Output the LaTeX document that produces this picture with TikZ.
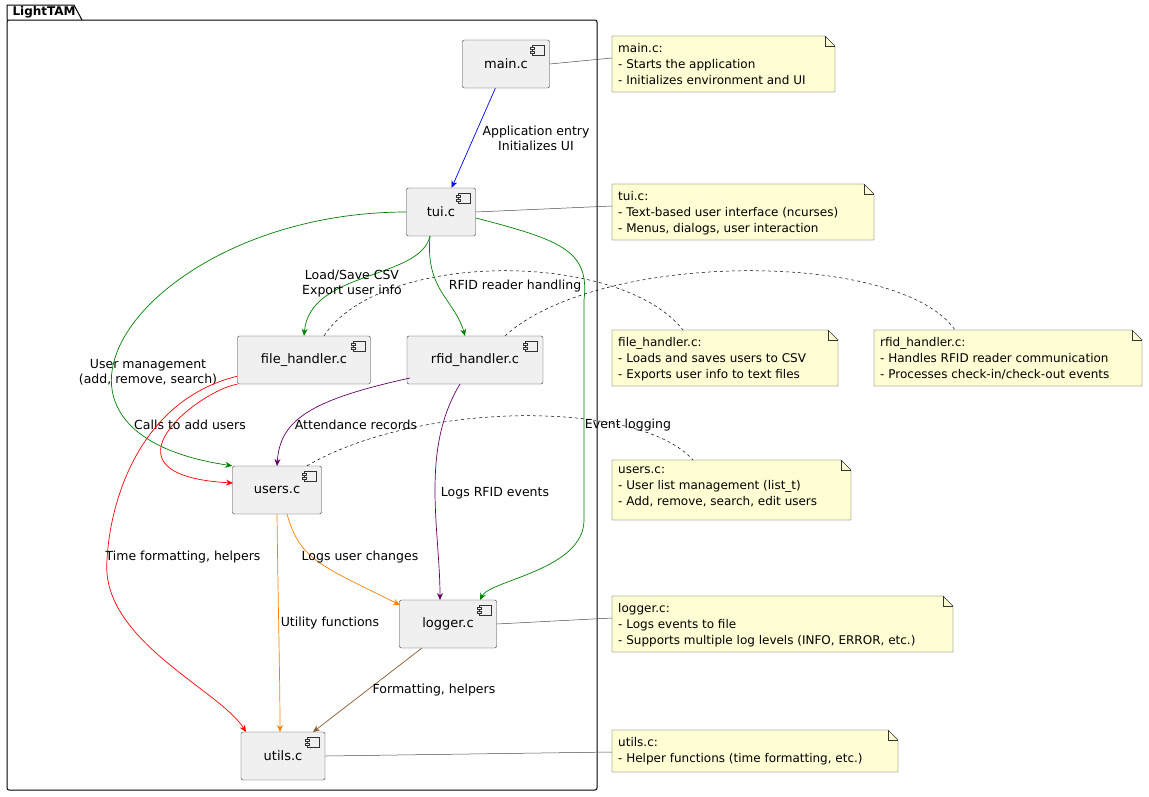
\documentclass[tikz,border=0pt]{standalone}
\usetikzlibrary{arrows.meta}
\usepackage{fontspec}
\setmainfont{DejaVu Sans}
\begin{document}
\begin{tikzpicture}[x=1pt,y=-1pt,
 comp/.style={draw=black!80,fill=black!6,rounded corners=2pt,minimum height=48pt,font=\fontsize{13}{15}\selectfont},
 note/.style={font=\fontsize{12}{16}\selectfont,align=left,anchor=north west,inner sep=0pt},
 lbl/.style={font=\fontsize{12.5}{15}\selectfont,align=center,inner sep=1pt,text=black},
 e/.style={-{Stealth[length=7pt,width=6pt]},line width=0.7pt},
 nl/.style={black!70,line width=0.5pt},
 dl/.style={black,dashed,line width=0.5pt}]
\useasboundingbox (0,0) rectangle (1149,796);
% package
\draw[line width=1pt] (7,20) -- (7,5) -- (74,5) -- (82,20);
\draw[line width=1pt,rounded corners=2pt] (7,20) -- (7,790) -- (597,790) -- (597,20) -- cycle;
\node[anchor=west,font=\bfseries\fontsize{12}{14}\selectfont] (pkg) at (9,12) {LightTAM};
% components
\newcommand{\compicon}[1]{\draw[black!80,fill=black!6] ([xshift=-18pt,yshift=-5pt]#1.north east) rectangle ([xshift=-6pt,yshift=-15pt]#1.north east);
 \draw[black!80,fill=black!6] ([xshift=-20pt,yshift=-7pt]#1.north east) rectangle ([xshift=-16pt,yshift=-9pt]#1.north east);
 \draw[black!80,fill=black!6] ([xshift=-20pt,yshift=-11pt]#1.north east) rectangle ([xshift=-16pt,yshift=-13pt]#1.north east);}
\node[comp,minimum width=87pt] (main) at (506,64) {main.c};
\node[comp,minimum width=69pt] (tui) at (441,212) {tui.c};
\node[comp,minimum width=133pt] (fh) at (304,360) {file\_handler.c};
\node[comp,minimum width=136pt] (rf) at (475,360) {rfid\_handler.c};
\node[comp,minimum width=89pt] (us) at (277,490) {users.c};
\node[comp,minimum width=97pt] (lg) at (448,624) {logger.c};
\node[comp,minimum width=84pt] (ut) at (283,756) {utils.c};
\foreach \n in {main,tui,fh,rf,us,lg,ut}{\compicon{\n}}
% notes
\newcommand{\notebox}[6]{% name x1 y1 x2 y2 text
 \draw[black!80,fill=yellow!13!white!95!yellow] (#2,#3) -- (#4-10,#3) -- (#4,#3+10) -- (#4,#5) -- (#2,#5) -- cycle;
 \draw[black!80] (#4-10,#3) -- (#4-10,#3+10) -- (#4,#3+10);
 \node[note] (#1) at (#2+6,#3+7) {#6};}
\notebox{nmain}{612}{36}{835}{92}{main.c:\\- Starts the application\\- Initializes environment and UI}
\notebox{ntui}{612}{184}{874}{240}{tui.c:\\- Text-based user interface (ncurses)\\- Menus, dialogs, user interaction}
\notebox{nfh}{612}{330}{838}{386}{file\_handler.c:\\- Loads and saves users to CSV\\- Exports user info to text files}
\notebox{nrf}{874}{330}{1142}{386}{rfid\_handler.c:\\- Handles RFID reader communication\\- Processes check-in/check-out events}
\notebox{nus}{612}{460}{851}{520}{users.c:\\- User list management (list\_t)\\- Add, remove, search, edit users}
\notebox{nlg}{612}{596}{953}{652}{logger.c:\\- Logs events to file\\- Supports multiple log levels (INFO, ERROR, etc.)}
\notebox{nut}{612}{730}{898}{772}{utils.c:\\- Helper functions (time formatting, etc.)}
% note links
\draw[nl] (main.east) -- (612,58);
\draw[nl] (tui.east) -- (612,206);
\draw[nl] (lg.east) -- (612,618);
\draw[nl] (ut.east) -- (612,752);
\draw[dl] (fh.north) ++(20,0) .. controls (380,250) and (620,250) .. (683,330);
\draw[dl] (rf.north) ++(30,0) .. controls (600,250) and (900,250) .. (955,330);
\draw[dl] (us.north) ++(30,0) .. controls (420,400) and (640,400) .. (693,460);
% edges
\draw[e,blue] (main) -- (tui);
\node[lbl] at (536,138) {Application entry\\Initializes UI};
\draw[e,green!50!black] (tui.west) .. controls (150,212) and (-10,430) .. (us.west|-us.120);
\node[lbl] at (148,372) {User management\\(add, remove, search)};
\draw[e,green!50!black] (430,236) .. controls (420,280) and (310,270) .. (fh.north);
\node[lbl] at (352,284) {Load/Save CSV\\Export user info};
\draw[e,green!50!black] (430,236) .. controls (425,290) and (455,300) .. (465,336);
\node[lbl] at (515,286) {RFID reader handling};
\draw[e,green!50!black] (476,218) .. controls (560,240) and (590,250) .. (584,300) -- (584,520) .. controls (584,570) and (490,580) .. (480,600);
\node[lbl] at (628,425) {Event logging};
\draw[e,red] (fh.west|-fh.300) .. controls (200,390) and (90,475) .. (233,483);
\node[lbl] at (190,425) {Calls to add users};
\draw[e,red] (fh.south west) ++(0,-8) .. controls (140,400) and (110,500) .. (107,560) .. controls (100,640) and (220,690) .. (246,732);
\node[lbl] at (183,557) {Time formatting, helpers};
\draw[e,violet!80!black] (410,378) .. controls (310,400) and (280,420) .. (277,466);
\node[lbl] at (356,425) {Attendance records};
\draw[e,violet!80!black] (460,384) .. controls (420,450) and (440,530) .. (440,600);
\node[lbl] at (495,493) {Logs RFID events};
\draw[e,orange] (287,514) .. controls (300,560) and (320,565) .. (400,605);
\node[lbl] at (360,557) {Logs user changes};
\draw[e,orange] (277,514) .. controls (278,600) and (280,680) .. (280,732);
\node[lbl] at (330,623) {Utility functions};
\draw[e,brown!70!black] (422,648) -- (313,732);
\node[lbl] at (434,690) {Formatting, helpers};
\end{tikzpicture}
\end{document}
